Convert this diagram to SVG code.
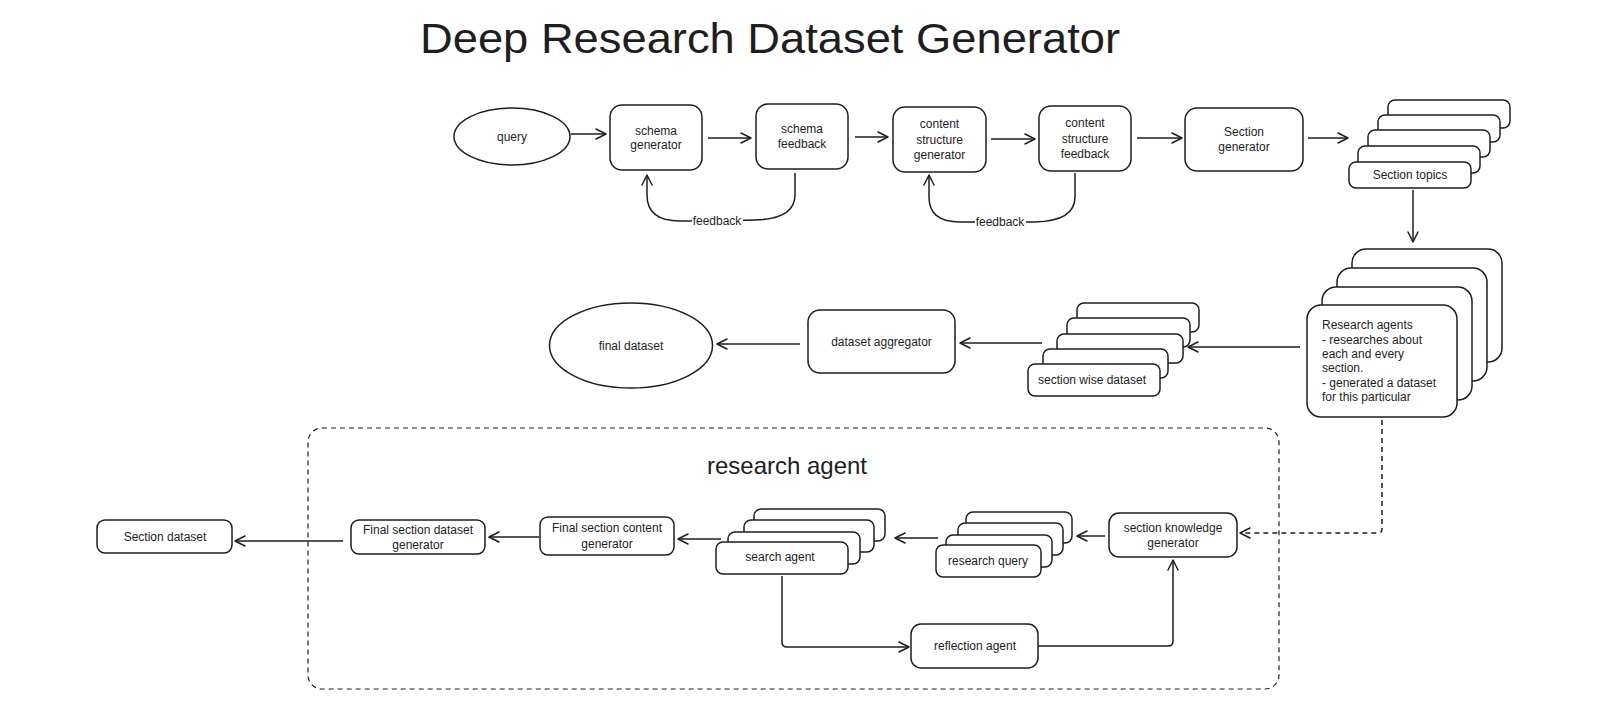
<svg xmlns="http://www.w3.org/2000/svg" width="1619" height="716" viewBox="0 0 1619 716">
<style>
.box{fill:#fff;stroke:#1e1e1e;stroke-width:1.5}
.lbl{font-family:"Liberation Sans",Arial,sans-serif;font-size:12px;fill:#1e1e1e;text-anchor:middle;dominant-baseline:central}
.lft{text-anchor:start}
.conn{fill:none;stroke:#1e1e1e;stroke-width:1.5;marker-end:url(#arr)}
.dash{stroke-dasharray:5 4}
</style>
<defs>
<marker id="arr" markerUnits="userSpaceOnUse" markerWidth="14" markerHeight="14" viewBox="0 0 14 14" refX="12" refY="7" orient="auto">
<path d="M2,2 L12,7 L2,12" fill="none" stroke="#1e1e1e" stroke-width="1.5" stroke-linecap="round" stroke-linejoin="round"/>
</marker>
</defs>
<rect width="1619" height="716" fill="#fff"/>
<text x="770" y="53" text-anchor="middle" font-family="'Liberation Sans',Arial,sans-serif" font-size="42" fill="#1e1e1e" textLength="700" lengthAdjust="spacingAndGlyphs">Deep Research Dataset Generator</text>

<g id="research-agent-container">
<rect x="308" y="428" width="971" height="261" rx="14" fill="none" stroke="#1e1e1e" stroke-width="1.2" stroke-dasharray="5 4"/>
<text x="787" y="465" class="lbl" font-size="24" style="font-size:24px">research agent</text>
</g>

<g id="connectors">
<path class="conn" d="M571,134 L606,134"/>
<path class="conn" d="M708,138 L751,138"/>
<path class="conn" d="M855,137 L888,137"/>
<path class="conn" d="M991,139 L1035,139"/>
<path class="conn" d="M1137,138 L1182,138"/>
<path class="conn" d="M1308,138 L1348,138"/>
<path class="conn" d="M1413,190 L1413,242"/>
<path class="conn" d="M1300,347 L1188,347"/>
<path class="conn" d="M1042,343 L960,343"/>
<path class="conn" d="M800,344 L717,344"/>
<path class="conn dash" d="M1382,420 L1382,529 Q1382,533 1378,533 L1240,533"/>
<path class="conn" d="M1105,536 L1077,536"/>
<path class="conn" d="M938,538 L895,538"/>
<path class="conn" d="M721,539 L678,539"/>
<path class="conn" d="M539,537 L489,537"/>
<path class="conn" d="M343,541 L235,541"/>
<path class="conn" d="M782,576 L782,642 Q782,647 787,647 L909,647"/>
<path class="conn" d="M1038,646 L1168,646 Q1173,646 1173,641 L1173,560"/>
<path class="conn" d="M795,173 L795,195 Q795,219 755,220 L717,221 L680,221 Q647,221 647,195 L647,175"/>
<path class="conn" d="M1075,173 L1075,197 Q1075,221 1035,222 L1000,222 L960,222 Q929,222 929,197 L929,175"/>
<rect x="692" y="213" width="51" height="16" fill="#fff"/>
<text x="717" y="221" class="lbl">feedback</text>
<rect x="975" y="214" width="51" height="16" fill="#fff"/>
<text x="1000" y="222" class="lbl">feedback</text>
</g>

<g id="query">
<ellipse class="box" cx="512" cy="136.5" rx="58" ry="28.5"/>
<text class="lbl" x="512" y="137">query</text>
</g>
<g id="schema-generator">
<rect class="box" x="610" y="105" width="92" height="65" rx="12"/>
<text class="lbl" x="656" y="131">schema</text>
<text class="lbl" x="656" y="145">generator</text>
</g>
<g id="schema-feedback">
<rect class="box" x="756" y="104" width="92" height="65" rx="12"/>
<text class="lbl" x="802" y="129">schema</text>
<text class="lbl" x="802" y="144">feedback</text>
</g>
<g id="content-structure-generator">
<rect class="box" x="893" y="107" width="93" height="65" rx="12"/>
<text class="lbl" x="939.5" y="124">content</text>
<text class="lbl" x="939.5" y="139.5">structure</text>
<text class="lbl" x="939.5" y="155">generator</text>
</g>
<g id="content-structure-feedback">
<rect class="box" x="1039" y="106" width="92" height="65" rx="12"/>
<text class="lbl" x="1085" y="123">content</text>
<text class="lbl" x="1085" y="138.5">structure</text>
<text class="lbl" x="1085" y="154">feedback</text>
</g>
<g id="section-generator">
<rect class="box" x="1185" y="108" width="118" height="63" rx="12"/>
<text class="lbl" x="1244" y="132">Section</text>
<text class="lbl" x="1244" y="147">generator</text>
</g>
<g id="section-topics">
<rect class="box" x="1388" y="100" width="122" height="28" rx="7"/>
<rect class="box" x="1378" y="115" width="122" height="27" rx="7"/>
<rect class="box" x="1368" y="130" width="122" height="27" rx="7"/>
<rect class="box" x="1358" y="146" width="122" height="27" rx="7"/>
<rect class="box" x="1349" y="162" width="122" height="26" rx="7"/>
<text class="lbl" x="1410" y="175">Section topics</text>
</g>
<g id="research-agents">
<rect class="box" x="1352" y="249" width="150" height="113" rx="14"/>
<rect class="box" x="1337" y="268" width="150" height="113" rx="14"/>
<rect class="box" x="1322" y="287" width="150" height="113" rx="14"/>
<rect class="box" x="1307" y="305" width="150" height="112" rx="14"/>
<text class="lbl lft" x="1322" y="325">Research agents</text>
<text class="lbl lft" x="1322" y="339.5">- researches about</text>
<text class="lbl lft" x="1322" y="354">each and every</text>
<text class="lbl lft" x="1322" y="368">section.</text>
<text class="lbl lft" x="1322" y="382.5">- generated a dataset</text>
<text class="lbl lft" x="1322" y="397">for this particular</text>
</g>
<g id="section-wise-dataset">
<rect class="box" x="1077" y="303" width="122" height="29" rx="7"/>
<rect class="box" x="1067" y="318" width="123" height="29" rx="7"/>
<rect class="box" x="1057" y="334" width="126" height="29" rx="7"/>
<rect class="box" x="1043" y="349" width="125" height="29" rx="7"/>
<rect class="box" x="1028" y="364" width="132" height="32" rx="7"/>
<text class="lbl" x="1092" y="380">section wise dataset</text>
</g>
<g id="dataset-aggregator">
<rect class="box" x="808" y="310" width="147" height="63" rx="12"/>
<text class="lbl" x="881.5" y="342">dataset aggregator</text>
</g>
<g id="final-dataset">
<ellipse class="box" cx="631" cy="345.5" rx="81.5" ry="42.5"/>
<text class="lbl" x="631" y="346">final dataset</text>
</g>
<g id="section-knowledge-generator">
<rect class="box" x="1109" y="513" width="128" height="44" rx="10"/>
<text class="lbl" x="1173" y="528">section knowledge</text>
<text class="lbl" x="1173" y="543">generator</text>
</g>
<g id="research-query">
<rect class="box" x="966" y="512" width="106" height="31" rx="7"/>
<rect class="box" x="958" y="523" width="105" height="32" rx="7"/>
<rect class="box" x="946" y="535" width="106" height="32" rx="7"/>
<rect class="box" x="936" y="545" width="105" height="32" rx="7"/>
<text class="lbl" x="988" y="561">research query</text>
</g>
<g id="search-agent">
<rect class="box" x="754" y="509" width="131" height="32" rx="7"/>
<rect class="box" x="744" y="520" width="130" height="32" rx="7"/>
<rect class="box" x="728" y="532" width="132" height="32" rx="7"/>
<rect class="box" x="716" y="542" width="132" height="32" rx="7"/>
<text class="lbl" x="780" y="557">search agent</text>
</g>
<g id="reflection-agent">
<rect class="box" x="911" y="624" width="127" height="44" rx="10"/>
<text class="lbl" x="975" y="646">reflection agent</text>
</g>
<g id="final-section-content-generator">
<rect class="box" x="540" y="517" width="134" height="38" rx="8"/>
<text class="lbl" x="607" y="528">Final section content</text>
<text class="lbl" x="607" y="544">generator</text>
</g>
<g id="final-section-dataset-generator">
<rect class="box" x="351" y="520" width="134" height="34" rx="8"/>
<text class="lbl" x="418" y="530">Final section dataset</text>
<text class="lbl" x="418" y="545">generator</text>
</g>
<g id="section-dataset">
<rect class="box" x="97" y="520" width="135" height="33" rx="8"/>
<text class="lbl" x="165" y="537">Section dataset</text>
</g>
</svg>
